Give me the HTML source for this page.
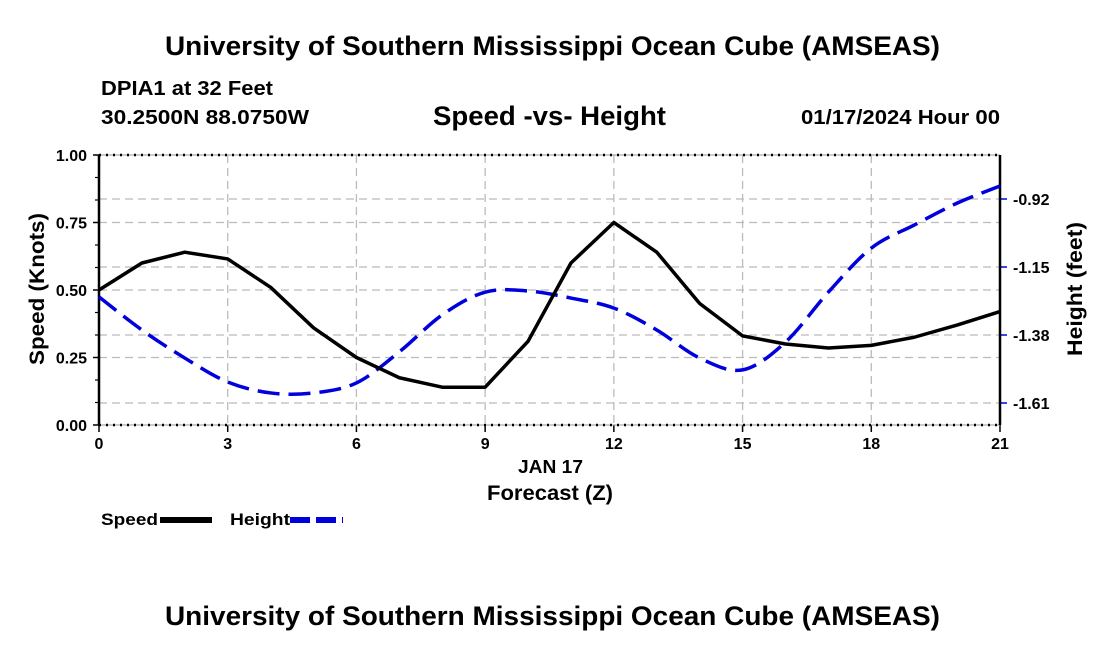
<!DOCTYPE html>
<html><head><meta charset="utf-8"><style>
body{margin:0;background:#fff;}
svg{display:block;font-family:"Liberation Sans",sans-serif;font-weight:bold;}
</style></head><body>
<svg id="chart" width="1100" height="650" viewBox="0 0 1100 650">
<text x="165" y="55" font-size="27" textLength="775" lengthAdjust="spacingAndGlyphs">University of Southern Mississippi Ocean Cube (AMSEAS)</text>
<text x="101" y="95" font-size="20" textLength="172" lengthAdjust="spacingAndGlyphs">DPIA1 at 32 Feet</text>
<text x="101" y="124" font-size="20" textLength="208" lengthAdjust="spacingAndGlyphs">30.2500N  88.0750W</text>
<text x="433" y="125" font-size="27" textLength="233" lengthAdjust="spacingAndGlyphs">Speed -vs- Height</text>
<text x="801" y="124" font-size="20" textLength="199" lengthAdjust="spacingAndGlyphs">01/17/2024 Hour 00</text>
<g id="grid"></g>
<g id="axes"></g>
<g id="series"></g>
<text x="518" y="473" font-size="18" textLength="65" lengthAdjust="spacingAndGlyphs">JAN 17</text>
<text x="487" y="500" font-size="21" textLength="126" lengthAdjust="spacingAndGlyphs">Forecast (Z)</text>
<text transform="translate(44,289) rotate(-90)" x="-76" font-size="21" textLength="152" lengthAdjust="spacingAndGlyphs">Speed (Knots)</text>
<text transform="translate(1082,289) rotate(-90)" x="-67" font-size="21" textLength="134" lengthAdjust="spacingAndGlyphs">Height (feet)</text>
<g>
<text x="101" y="525" font-size="17" textLength="57" lengthAdjust="spacingAndGlyphs">Speed</text>
<line x1="160" y1="520" x2="212" y2="520" stroke="#000" stroke-width="6"/>
<text x="230" y="525" font-size="17" textLength="60" lengthAdjust="spacingAndGlyphs">Height</text>
<line x1="290" y1="520" x2="343" y2="520" stroke="#0000dd" stroke-width="6" stroke-dasharray="20,6"/>
</g>
<text x="165" y="625" font-size="27" textLength="775" lengthAdjust="spacingAndGlyphs">University of Southern Mississippi Ocean Cube (AMSEAS)</text>
</svg>
<script>
const hours = [0,1,2,3,4,5,6,7,8,9,10,11,12,13,14,15,16,17,18,19,20,21];
const speed = [0.50,0.60,0.64,0.615,0.51,0.36,0.25,0.175,0.14,0.14,0.31,0.60,0.75,0.64,0.45,0.33,0.30,0.285,0.295,0.325,0.37,0.42];
const height = [-1.251,-1.363,-1.458,-1.539,-1.576,-1.576,-1.542,-1.437,-1.312,-1.235,-1.231,-1.255,-1.289,-1.363,-1.458,-1.498,-1.404,-1.235,-1.086,-1.008,-0.934,-0.876];
const xTicks = [0,3,6,9,12,15,18,21];
const leftTicks = ["0.00","0.25","0.50","0.75","1.00"];
const rightTicks = ["-0.92","-1.15","-1.38","-1.61"];

const NS="http://www.w3.org/2000/svg";
const X0=99,X1=1000,Y0=425,Y1=155;
const xs=h=>X0+(h-0)/(21-0)*(X1-X0);
const ys=v=>Y0-(v-0)/(1-0)*(Y0-Y1);
const yh=v=>199+(-0.92-v)/0.23*68;
function mk(tag,attrs,parent){const e=document.createElementNS(NS,tag);for(const k in attrs)e.setAttribute(k,attrs[k]);parent.appendChild(e);return e;}
const grid=document.getElementById('grid'),axes=document.getElementById('axes'),series=document.getElementById('series');
xTicks.forEach(t=>{
  const x=xs(t);
  if(t>0&&t<21){const l=mk('line',{x1:x,y1:Y1,x2:x,y2:Y0,stroke:'#bbb','stroke-width':1.3,'stroke-dasharray':'8,5'},grid);
  
  }
  const tk=mk('line',{x1:x,y1:Y0,x2:x,y2:Y0+7,stroke:'#000','stroke-width':1.5},axes);
  
  
  const tx=mk('text',{x:x,y:Y0+24,'text-anchor':'middle','font-size':16},axes);
  tx.textContent=t;
  
  
});
leftTicks.forEach(s=>{
  const v=parseFloat(s),y=ys(v);
  if(v>0&&v<1){const l=mk('line',{x1:X0,y1:y,x2:X1,y2:y,stroke:'#bbb','stroke-width':1.3,'stroke-dasharray':'8,5'},grid);
  
  }
  const tk=mk('line',{x1:X0-6,y1:y,x2:X0,y2:y,stroke:'#000','stroke-width':1.5},axes);
  
  
  const tx=mk('text',{x:X0-12,y:y+6,'text-anchor':'end','font-size':16},axes);
  tx.textContent=s;
  
  
});
for(let i=1;i<12;i++){if(i%3===0)continue;const y=ys(i/12);
  const tk=mk('line',{x1:X0-4,y1:y,x2:X0,y2:y,stroke:'#000','stroke-width':1.2},axes);
  
  }
rightTicks.forEach(s=>{
  const y=yh(parseFloat(s));
  const l=mk('line',{x1:X0,y1:y,x2:X1,y2:y,stroke:'#bbb','stroke-width':1.3,'stroke-dasharray':'8,5'},grid);
  
  
  const tk=mk('line',{x1:X1,y1:y,x2:X1+7,y2:y,stroke:'#0000dd','stroke-width':1.5},axes);
  
  
  const tx=mk('text',{x:X1+13,y:y+6,'font-size':16},axes);
  tx.textContent=s;
  
  
});
[[X0,Y1,X1,Y1],[X0,Y0,X1,Y0]].forEach(a=>{
  const g=mk('line',{x1:a[0],y1:a[1],x2:a[2],y2:a[3],stroke:'#999','stroke-width':1},axes);
  
  
  const b=mk('line',{x1:a[0],y1:a[1],x2:a[2],y2:a[3],stroke:'#000','stroke-width':2.5,'stroke-dasharray':'2,5'},axes);
  
  
});
const la=mk('line',{x1:X0,y1:Y1,x2:X0,y2:Y0,stroke:'#000','stroke-width':2.5},axes);


const ra=mk('line',{x1:X1,y1:Y1,x2:X1,y2:Y0,stroke:'#000','stroke-width':2.5},axes);


function smooth(pts){let d='M'+pts[0][0]+','+pts[0][1];
  for(let i=0;i<pts.length-1;i++){const p0=pts[Math.max(0,i-1)],p1=pts[i],p2=pts[i+1],p3=pts[Math.min(pts.length-1,i+2)];
    const c1=[p1[0]+(p2[0]-p0[0])/6,p1[1]+(p2[1]-p0[1])/6],c2=[p2[0]-(p3[0]-p1[0])/6,p2[1]-(p3[1]-p1[1])/6];
    d+=' C'+c1[0]+','+c1[1]+' '+c2[0]+','+c2[1]+' '+p2[0]+','+p2[1];}
  return d;}
function lin(pts){return 'M'+pts.map(p=>p[0]+','+p[1]).join(' L');}
const hp=mk('path',{d:smooth(hours.map((h,i)=>[xs(h),yh(height[i])])),fill:'none',stroke:'#0000dd','stroke-width':3.5,'stroke-dasharray':'22,9','stroke-linejoin':'round'},series);


const sp=mk('path',{d:lin(hours.map((h,i)=>[xs(h),ys(speed[i])])),fill:'none',stroke:'#000','stroke-width':3.5,'stroke-linejoin':'round'},series);


</script>
</body></html>
